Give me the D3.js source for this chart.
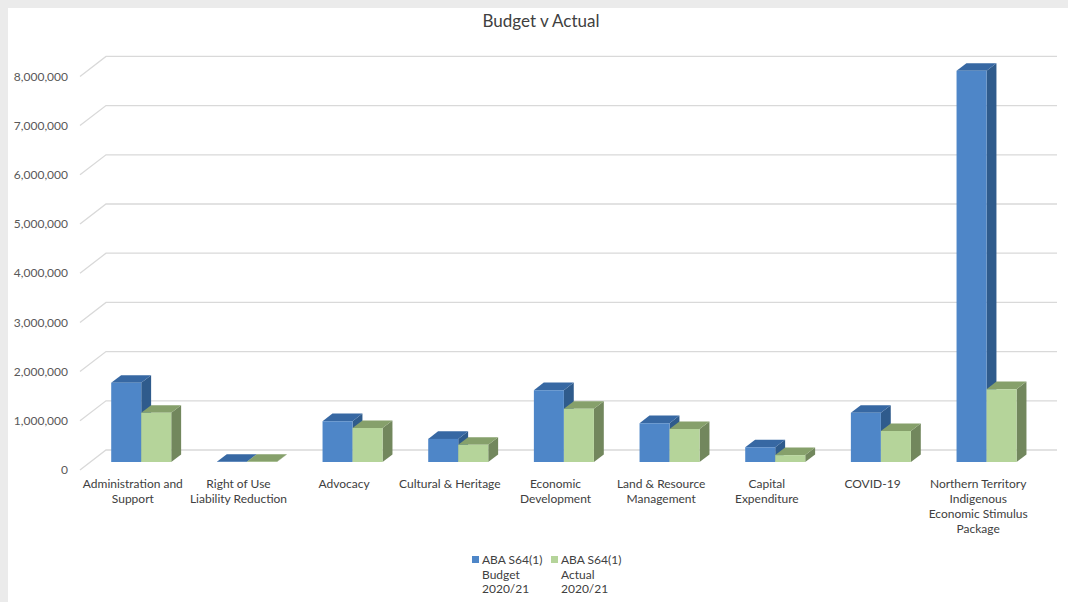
<!DOCTYPE html>
<html>
<head>
<meta charset="utf-8">
<script src="https://cdn.jsdelivr.net/npm/d3@7"></script>
<style>
  body { margin: 0; background: #ebebeb; }
  svg { display: block; }
  text { font-family: Lato, "Open Sans", sans-serif; }
</style>
</head>
<body>
<svg></svg>
<script>
// data
const categories = [
  "Administration and Support",
  "Right of Use Liability Reduction",
  "Advocacy",
  "Cultural & Heritage",
  "Economic Development",
  "Land & Resource Management",
  "Capital Expenditure",
  "COVID-19",
  "Northern Territory Indigenous Economic Stimulus Package"
];
const categoryLines = [
  ["Administration and", "Support"],
  ["Right of Use", "Liability Reduction"],
  ["Advocacy"],
  ["Cultural & Heritage"],
  ["Economic", "Development"],
  ["Land & Resource", "Management"],
  ["Capital", "Expenditure"],
  ["COVID-19"],
  ["Northern Territory", "Indigenous", "Economic Stimulus", "Package"]
];
const budget = [1610000, 5000, 830000, 470000, 1460000, 790000, 300000, 1000000, 7950000];
const actual = [1000000, 5000, 690000, 350000, 1080000, 670000, 140000, 630000, 1480000];
const seriesNames = ["budget", "actual"];
const legendLines = [["ABA S64(1)", "Budget", "2020/21"], ["ABA S64(1)", "Actual", "2020/21"]];
const yTicks = [0, 1000000, 2000000, 3000000, 4000000, 5000000, 6000000, 7000000, 8000000];

const W = 1068, H = 602;
const svg = d3.select("svg").attr("width", W).attr("height", H);

// white panel
svg.append("rect").attr("x", 8).attr("y", 8).attr("width", W - 8).attr("height", H - 8).attr("fill", "#fff");

// 3d projection: depth 0 = front, 1 = back wall
const DX = 26, DY = -20;
const frontLeft = 80, frontRight = 1031;

const x0 = d3.scaleBand().domain(d3.range(categories.length)).range([frontLeft - 2, frontRight - 2]);
const x1 = d3.scaleBand().domain(seriesNames).range([0, x0.bandwidth()]).paddingOuter(0.76);
const y = d3.scaleLinear().domain([0, 8000000]).range([470, 76.4]);

const P = (x, v, d) => [x + DX * d, y(v) + DY * d];

const colors = {
  budget: { front: "#4e86c8", top: "#3768a3", side: "#2f5b8c" },
  actual: { front: "#b5d49a", top: "#86a06b", side: "#72875d" }
};

// gridlines with the diagonal on the left wall
const grid = svg.append("g");
yTicks.forEach(t => {
  const a = P(frontLeft, t, 0), b = P(frontLeft, t, 1);
  grid.append("path")
    .attr("d", `M${a[0]},${a[1]}L${b[0]},${b[1]}L${frontRight + DX},${b[1]}`)
    .attr("fill", "none").attr("stroke", "#d9d9d9").attr("stroke-width", 1.3);
});

// y labels
const fmt = d3.format(",");
svg.append("g").selectAll("text").data(yTicks).join("text")
  .attr("x", 68).attr("y", d => y(d)).attr("dy", "0.35em")
  .attr("text-anchor", "end").attr("font-size", 12).attr("fill", "#595959")
  .text(d => fmt(d));

// bars
const d0 = 0.4, d1 = 0.78;
const rows = [];
categories.forEach((c, i) => {
  rows.push({ i, key: "budget", value: budget[i] });
  rows.push({ i, key: "actual", value: actual[i] });
});
const pts = arr => arr.map(p => p.join(",")).join(" ");
const bars = svg.append("g").selectAll("g").data(rows).join("g");
bars.each(function(d) {
  const g = d3.select(this);
  const xl = x0(d.i) + x1(d.key), xr = xl + x1.bandwidth();
  const c = colors[d.key];
  // side
  g.append("polygon").attr("fill", c.side)
    .attr("points", pts([P(xr, 0, d0), P(xr, 0, d1), P(xr, d.value, d1), P(xr, d.value, d0)]));
  // top
  g.append("polygon").attr("fill", c.top)
    .attr("points", pts([P(xl, d.value, d0), P(xr, d.value, d0), P(xr, d.value, d1), P(xl, d.value, d1)]));
  // front
  g.append("polygon").attr("fill", c.front)
    .attr("points", pts([P(xl, 0, d0), P(xr, 0, d0), P(xr, d.value, d0), P(xl, d.value, d0)]));
});

// category labels
const xl = svg.append("g");
categoryLines.forEach((lines, i) => {
  const t = xl.append("text").attr("text-anchor", "middle").attr("font-size", 12).attr("fill", "#404040")
    .attr("x", x0(i) + x0.bandwidth() / 2 + 2).attr("y", 488);
  lines.forEach((l, k) => t.append("tspan").attr("x", x0(i) + x0.bandwidth() / 2 + 2).attr("dy", k ? 15 : 0).text(l));
});

// title
svg.append("text").attr("x", 541).attr("y", 27).attr("text-anchor", "middle")
  .attr("font-size", 17).attr("fill", "#404040").text("Budget v Actual");

// legend
const legX = [472, 551];
seriesNames.forEach((s, i) => {
  svg.append("rect").attr("x", legX[i]).attr("y", 556).attr("width", 7).attr("height", 7).attr("fill", colors[s].front);
  const t = svg.append("text").attr("font-size", 12).attr("fill", "#404040").attr("x", legX[i] + 10).attr("y", 564);
  legendLines[i].forEach((l, k) => t.append("tspan").attr("x", legX[i] + 10).attr("dy", k ? 14.5 : 0).text(l));
});
</script>
</body>
</html>
